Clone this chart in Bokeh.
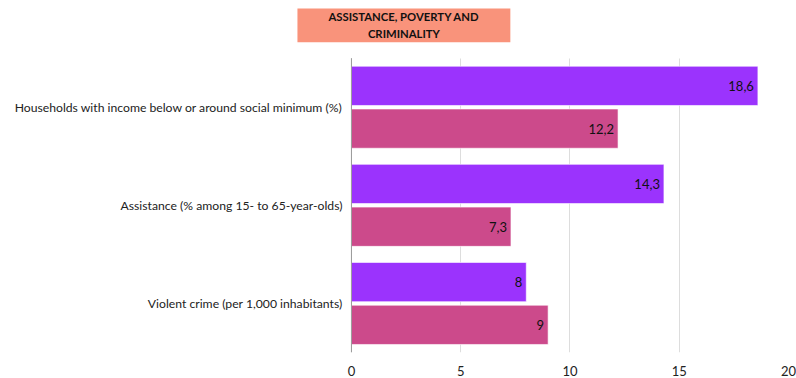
from bokeh.plotting import figure
from bokeh.models import ColumnDataSource, Range1d, LabelSet, Label
from bokeh.transform import dodge
from bokeh.core.properties import value
from bokeh.embed import file_html
from bokeh.resources import INLINE

categories = [
    "Households with income below or around social minimum (%)",
    "Assistance (% among 15- to 65-year-olds)",
    "Violent crime (per 1,000 inhabitants)",
]
series_a = [18.6, 14.3, 8]
series_b = [12.2, 7.3, 9]
labels_a = ["18,6", "14,3", "8"]
labels_b = ["12,2", "7,3", "9"]
x_ticks = [0, 5, 10, 15, 20]
title_text = "ASSISTANCE, POVERTY AND\nCRIMINALITY"

COLOR_A = "#9b33fd"
COLOR_B = "#cc4a8b"
FONT = "Lato"

n = len(categories)
y_pos = [n - i - 0.5 for i in range(n)]  # first category on top

src = ColumnDataSource(dict(y=y_pos, cat=categories, a=series_a, b=series_b,
                            la=labels_a, lb=labels_b))

TOP_SPACE = 0.588   # room above the bars for the title box (category units)
LEFT_SPACE = -16.06  # room left of zero for the category labels (value units)
p = figure(
    width=796, height=378,
    y_range=Range1d(0, n + TOP_SPACE),
    x_range=Range1d(LEFT_SPACE, x_ticks[-1]),
    y_axis_location=None,
    output_backend="svg", toolbar_location=None,
    min_border_left=0, min_border_right=8, min_border_top=0, min_border_bottom=24,
)
p.outline_line_color = None
p.background_fill_color = "white"

p.ygrid.grid_line_color = None
try:
    p.xgrid.cross_bounds = (0, n)
    p.xgrid.grid_line_color = "#dddddd"
except Exception:
    p.xgrid.grid_line_color = None
    p.segment(x0=x_ticks[1:], y0=0, x1=x_ticks[1:], y1=n, line_color="#dddddd", line_width=1,
              level="underlay")

p.hbar(y=dodge("y", 0.218), right="a", left=0, height=0.40,
       source=src, fill_color=COLOR_A, line_color="white", line_alpha=0.6, line_width=1)
p.hbar(y=dodge("y", -0.218), right="b", left=0, height=0.40,
       source=src, fill_color=COLOR_B, line_color="white", line_alpha=0.6, line_width=1)

# value axis baseline (vertical line at zero)
p.segment(x0=0, y0=0, x1=0, y1=n, line_color="#999999", line_width=1)

p.add_layout(LabelSet(x="a", y=dodge("y", 0.218), text="la", source=src,
                      x_offset=-4, text_align="right", text_baseline="middle",
                      text_font=value(FONT), text_font_size="13px", text_color="#111"))
p.add_layout(LabelSet(x="b", y=dodge("y", -0.218), text="lb", source=src,
                      x_offset=-4, text_align="right", text_baseline="middle",
                      text_font=value(FONT), text_font_size="13px", text_color="#111"))

# category labels
p.add_layout(LabelSet(x=0, y="y", text="cat", source=src,
                      x_offset=-9, text_align="right", text_baseline="middle",
                      text_font=value(FONT), text_font_size="12.2px", text_color="#222"))

# x axis
p.xaxis.ticker = x_ticks
p.xaxis.axis_line_color = None
p.xaxis.major_tick_line_color = None
p.xaxis.minor_tick_line_color = None
p.xaxis.major_label_standoff = 7
p.xaxis.major_label_text_font = FONT
p.xaxis.major_label_text_font_size = "13px"
p.xaxis.major_label_text_color = "#222"

title = Label(x=2.40, y=n + 0.334, text=title_text,
              text_align="center", text_baseline="middle",
              text_font=FONT, text_font_style="bold", text_font_size="11.3px", text_color="#111",
              text_line_height=1.3,
              background_fill_color="#f9937b", padding=(31, 2))
p.add_layout(title)

open("out.html", "w").write(file_html(p, INLINE))
